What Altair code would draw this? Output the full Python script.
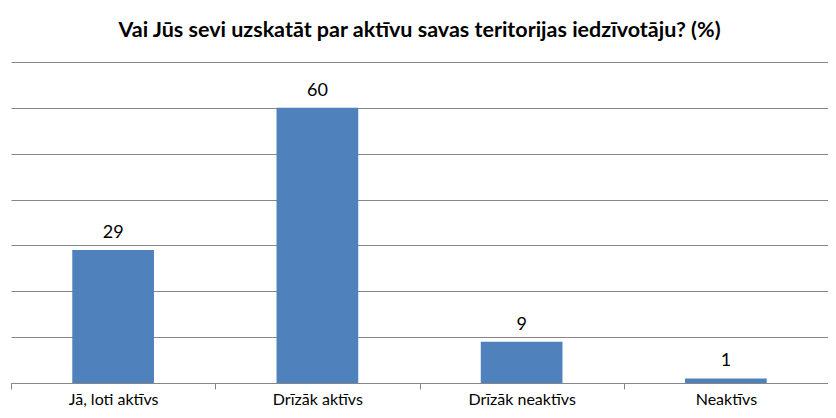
import altair as alt
import pandas as pd

categories = ["Jā, loti aktīvs", "Drīzāk aktīvs", "Drīzāk neaktīvs", "Neaktīvs"]
values = [29, 60, 9, 1]
title_text = "Vai Jūs sevi uzskatāt par aktīvu savas teritorijas iedzīvotāju? (%)"

df = pd.DataFrame({"cat": categories, "val": values})

x = alt.X("cat:N", sort=categories, title=None,
          scale=alt.Scale(paddingInner=0, paddingOuter=0),
          axis=alt.Axis(labelAngle=0, tickBand="extent", domainColor="#868686",
                        tickColor="#868686", tickSize=6, labelPadding=2,
                        labelFont="Lato", labelFontSize=16, labelColor="#000000",
                        grid=False))
y = alt.Y("val:Q", title=None,
          scale=alt.Scale(domain=[0, 70], nice=False),
          axis=alt.Axis(values=[0, 10, 20, 30, 40, 50, 60, 70], labels=False,
                        ticks=False, domain=False, grid=True,
                        gridColor="#868686", gridWidth=1))

bars = alt.Chart(df).mark_bar(width=alt.RelativeBandSize(0.4), color="#4F81BD").encode(x=x, y=y)
labels = alt.Chart(df).mark_text(baseline="alphabetic", dy=-12, font="Lato", fontSize=18,
                                 color="#000000").encode(
    x=alt.X("cat:N", sort=categories), y=alt.Y("val:Q"), text="val:Q")

chart = alt.layer(bars, labels).properties(
    width=817, height=321,
    title=alt.TitleParams(title_text, font="Lato", fontSize=21.5, fontWeight="bold",
                          anchor="middle", offset=21, color="#000000"),
    autosize=alt.AutoSizeParams(type="none"),
    padding={"left": 3, "top": 54, "right": 0, "bottom": 27},
).configure_view(stroke=None)

chart.save("out.html", embed_options={"renderer": "svg", "actions": False})
